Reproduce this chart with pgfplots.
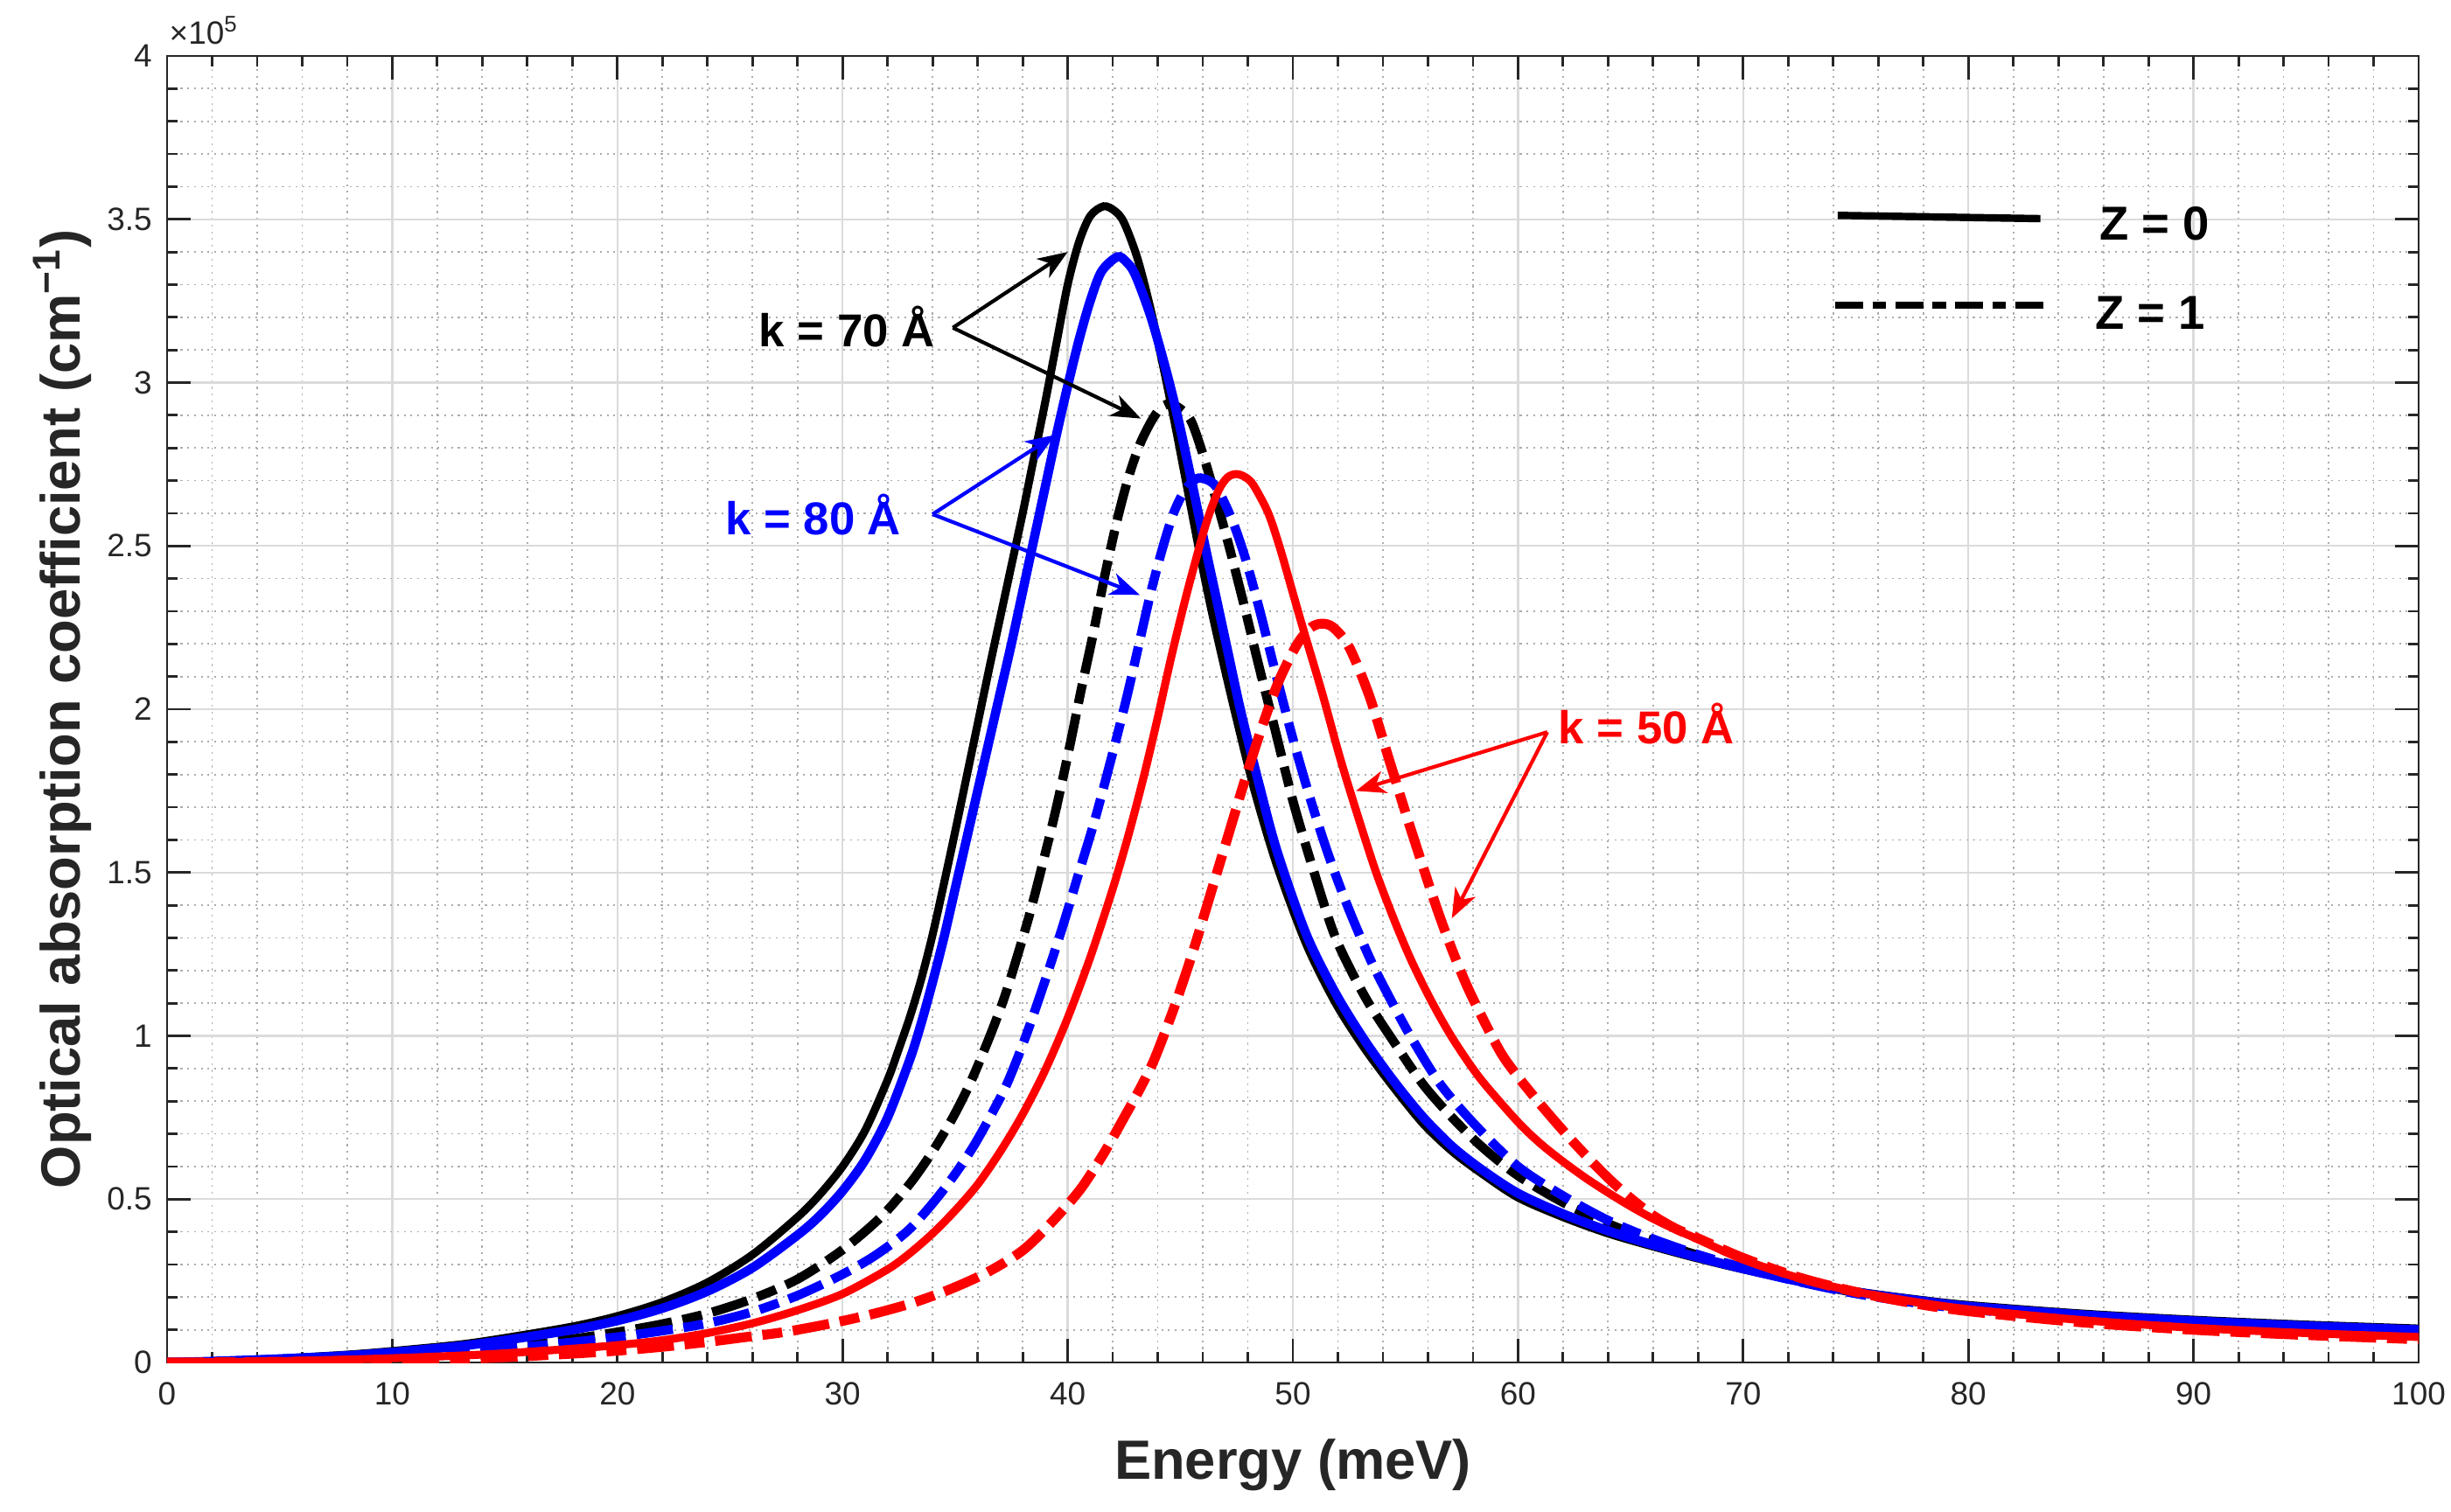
\documentclass[border=0pt]{standalone}
\usepackage{fontspec}
\setmainfont{Liberation Sans}
\usepackage{pgfplots}
\pgfplotsset{compat=1.18}
\usetikzlibrary{arrows.meta}
\definecolor{mblue}{RGB}{0,0,255}
\definecolor{mred}{RGB}{255,0,0}
\begin{document}
\begin{tikzpicture}
\begin{axis}[
  name=ax,
  at={(0,0)}, anchor=south west,
  scale only axis, width=25.74cm, height=14.94cm,
  xmin=0, xmax=100, ymin=0, ymax=4,
  xtick={0,10,...,100}, ytick={0,0.5,...,4},
  minor x tick num=4, minor y tick num=4,
  xtick pos=both, ytick pos=both,
  tick align=inside,
  major tick length=0.27cm, minor tick length=0.12cm,
  every tick/.style={black!85, line width=0.8pt},
  axis line style={black!85, line width=0.8pt},
  grid=both,
  major grid style={black!14, line width=0.7pt},
  minor grid style={black!32, line width=0.5pt, dash pattern=on 0.6pt off 1.6pt},
  /pgf/number format/assume math mode=true,
  tick label style={font=\fontsize{10.5}{12}\selectfont, black!85},
  xticklabel style={yshift=-0.1cm},
  yticklabel style={xshift=-0.05cm},
  xlabel={\bfseries Energy (meV)},
  ylabel={\bfseries Optical absorption coefficient (cm\textsuperscript{−1})},
  label style={font=\fontsize{18}{21}\selectfont, black!85},
  xlabel style={at={(rel axis cs:0.5,0)}, anchor=center, yshift=-1.17cm},
  ylabel style={at={(rel axis cs:-0.0465,0.5)}, anchor=center},
  every axis plot/.append style={smooth},
]
% k = 70, Z = 0 (black solid)
\addplot[black, line width=2.6pt] coordinates {
(0,0) (2,0.004) (5,0.012) (8,0.024) (10,0.035) (13,0.055) (15,0.075) (18,0.11) (20,0.142) (22,0.185) (24,0.245)
(26,0.33) (28,0.445) (29,0.515) (30,0.60) (31,0.71) (32,0.865) (32.5,0.96) (33,1.06) (33.5,1.175) (34,1.31)
(34.5,1.465) (35,1.625) (35.5,1.79) (36,1.955) (36.5,2.12) (37,2.28) (37.5,2.44) (38,2.60) (38.5,2.77) (39,2.94)
(39.5,3.12) (40,3.30) (40.5,3.43) (41,3.51) (41.6,3.54) (42.1,3.525) (42.5,3.49) (43.1,3.38) (43.7,3.22)
(44.3,3.03) (44.8,2.86) (45.3,2.68) (45.8,2.50) (46.3,2.33) (46.85,2.16) (47.5,1.97) (48.3,1.75) (49.3,1.52)
(50.6,1.28) (51.9,1.10) (53.2,0.96) (54.5,0.84) (55.8,0.73) (57.1,0.645) (58.4,0.578) (60,0.505) (62,0.445)
(64,0.395) (66,0.355) (68,0.318) (70,0.285) (72.5,0.248) (75,0.218) (77.5,0.195) (80,0.176) (85,0.15)
(90,0.131) (95,0.116) (100,0.104)
};
% k = 70, Z = 1 (black dash-dot)
\addplot[black, line width=3pt, dash pattern=on 12pt off 3.5pt on 6.5pt off 3.5pt] coordinates {
(0,0) (2,0.002) (5,0.007) (8,0.015) (10,0.022) (13,0.036) (15,0.048) (18,0.072) (20,0.093) (22,0.118) (24,0.15)
(26,0.195) (28,0.255) (30,0.345) (31.7,0.445) (33,0.548) (34,0.646) (34.9,0.75) (35.7,0.86) (36.55,1.0)
(37.2,1.12) (37.7,1.23) (38.3,1.37) (38.9,1.53) (39.5,1.70) (40.1,1.89) (40.6,2.06) (41.1,2.22) (41.65,2.41)
(42.2,2.58) (42.7,2.71) (43.2,2.81) (43.7,2.88) (44.1,2.92) (44.5,2.935) (45.0,2.92) (45.5,2.88) (46.1,2.76)
(46.6,2.64) (47.2,2.49) (47.9,2.30) (48.5,2.13) (49.2,1.94) (50.0,1.72) (50.9,1.51) (51.9,1.30) (53.2,1.12)
(54.5,0.98) (55.8,0.85) (57.1,0.748) (58.4,0.66) (60,0.572) (62,0.49) (64,0.425) (66,0.372) (68,0.328)
(70,0.29) (72.5,0.249) (75,0.214) (77.5,0.188) (80,0.168) (85,0.141) (90,0.122) (95,0.107) (100,0.096)
};
% k = 80, Z = 0 (blue solid)
\addplot[mblue, line width=3pt] coordinates {
(0,0) (2,0.0035) (5,0.011) (8,0.021) (10,0.031) (13,0.05) (15,0.068) (18,0.1) (20,0.128) (22,0.166) (24,0.218)
(26,0.29) (28,0.39) (29,0.45) (30,0.525) (31,0.62) (32,0.75) (33,0.93) (33.5,1.04) (34,1.165) (34.5,1.30)
(35,1.45) (35.5,1.60) (36,1.75) (36.5,1.90) (37,2.05) (37.5,2.20) (38,2.36) (38.5,2.52) (39,2.68) (39.5,2.84)
(40,2.99) (40.5,3.13) (41,3.25) (41.5,3.34) (42.2,3.385) (42.6,3.37) (43.0,3.33) (43.7,3.20) (44.4,3.03)
(44.9,2.89) (45.5,2.70) (46.1,2.50) (46.6,2.34) (47.1,2.18) (47.7,1.99) (48.5,1.77) (49.3,1.565) (50.6,1.31)
(51.9,1.13) (53.2,0.985) (54.5,0.86) (55.8,0.75) (57.1,0.66) (58.4,0.59) (60,0.518) (62,0.455) (64,0.403)
(66,0.36) (68,0.322) (70,0.287) (72.5,0.248) (75,0.216) (77.5,0.192) (80,0.172) (85,0.146) (90,0.127)
(95,0.112) (100,0.10)
};
% k = 80, Z = 1 (blue dash-dot)
\addplot[mblue, line width=3pt, dash pattern=on 12pt off 3.5pt on 6.5pt off 3.5pt] coordinates {
(0,0) (2,0.002) (5,0.006) (8,0.013) (10,0.019) (13,0.031) (15,0.042) (18,0.062) (20,0.078) (22,0.097) (24,0.12)
(26,0.155) (28,0.205) (30,0.27) (31.5,0.33) (33,0.41) (34.5,0.53) (35.8,0.66) (37,0.81) (37.5,0.885)
(38.2,1.01) (39,1.17) (39.8,1.34) (40.5,1.50) (41.2,1.66) (41.9,1.84) (42.6,2.03) (43.2,2.21) (43.7,2.36)
(44.2,2.49) (44.7,2.60) (45.2,2.67) (45.7,2.705) (46.1,2.705) (46.6,2.68) (47.3,2.58) (47.9,2.46) (48.5,2.31)
(49.2,2.12) (50.0,1.91) (50.8,1.72) (51.6,1.55) (52.5,1.385) (53.5,1.225) (54.5,1.09) (55.3,0.99) (56.55,0.852)
(58.1,0.727) (60,0.60) (62,0.51) (64,0.435) (66,0.378) (68,0.33) (70,0.29) (72.5,0.247) (75,0.211)
(77.5,0.184) (80,0.163) (85,0.136) (90,0.117) (95,0.102) (100,0.09)
};
% k = 50, Z = 0 (red solid)
\addplot[mred, line width=2.6pt] coordinates {
(0,0) (2,0.0015) (5,0.004) (8,0.009) (10,0.013) (13,0.021) (15,0.028) (18,0.042) (20,0.053) (22,0.068) (24,0.09)
(26,0.12) (28,0.16) (30,0.21) (32,0.285) (33,0.335) (34,0.395) (35,0.465) (36,0.545) (37,0.645) (38,0.76) (39,0.895)
(40,1.055) (41,1.24) (42,1.45) (42.7,1.615) (43.4,1.80) (44.0,1.975) (44.6,2.16) (45.2,2.33) (45.7,2.46)
(46.2,2.58) (46.7,2.67) (47.1,2.71) (47.5,2.72) (47.9,2.71) (48.26,2.685) (48.91,2.6) (49.43,2.493) (49.95,2.368)
(50.47,2.243) (51.3,2.05) (52.1,1.85) (52.9,1.67) (53.7,1.50) (54.5,1.355) (55.2,1.24) (55.9,1.14) (56.6,1.05)
(57.3,0.97) (58.37,0.865) (60,0.736) (61,0.67) (62,0.615) (63,0.565) (64,0.52) (65,0.478) (66,0.44) (67,0.407)
(68,0.377) (70,0.315) (72.5,0.258) (75,0.217) (77.5,0.187) (80,0.163) (85,0.13) (90,0.106) (95,0.09) (100,0.078)
};
% k = 50, Z = 1 (red dash-dot)
\addplot[mred, line width=3.2pt, dash pattern=on 12pt off 3.5pt on 6.5pt off 3.5pt] coordinates {
(0,0) (2,0.0005) (5,0.002) (8,0.004) (10,0.006) (13,0.011) (15,0.016) (18,0.027) (20,0.036) (22,0.048) (23.9,0.062)
(25.5,0.076) (27.4,0.093) (29.3,0.117) (31.2,0.146) (33,0.18) (34.7,0.222) (36.4,0.275) (38,0.343) (39.3,0.43)
(40.56,0.53) (41.6,0.64) (42.57,0.758) (43.3,0.85) (43.86,0.93) (44.64,1.07) (45.29,1.2) (45.8,1.31) (46.5,1.47)
(47.2,1.63) (47.9,1.79) (48.7,1.96) (49.4,2.09) (50.2,2.2) (50.8,2.25) (51.3,2.262) (51.8,2.25) (52.5,2.19)
(53.4,2.04) (54.3,1.84) (55.26,1.628) (56.55,1.36) (57.72,1.155) (59.14,0.96) (60,0.875) (61,0.79) (62,0.71)
(63,0.635) (64,0.565) (65,0.503) (66,0.45) (67,0.41) (68,0.38) (70,0.32) (72.5,0.26) (75,0.216) (77.5,0.182)
(80,0.157) (85,0.123) (90,0.1) (95,0.084) (100,0.071)
};
% legend (line samples and labels)
\draw[black, line width=2.4pt] (axis cs:74.2,3.512) -- (axis cs:83.2,3.502);
\node[anchor=west, inner sep=0pt, font=\bfseries\fontsize{15.5}{18}\selectfont] at (axis cs:85.8,3.486) {Z = 0};
\draw[black, line width=2.4pt, dash pattern=on 9pt off 3pt on 4.5pt off 3pt] (axis cs:74.1,3.237) -- (axis cs:83.4,3.237);
\node[anchor=west, inner sep=0pt, font=\bfseries\fontsize{15.5}{18}\selectfont] at (axis cs:85.6,3.213) {Z = 1};
% annotations
\tikzset{annarrow/.style={line width=1.2pt, -{Stealth[length=0.34cm, width=0.26cm, inset=0.1cm]}}}
\node[font=\bfseries\fontsize{15}{18}\selectfont, black] at (axis cs:30.2,3.171) {k = 70 Å};
\draw[annarrow, black] (axis cs:34.9,3.168) -- (axis cs:40.0,3.40);
\draw[annarrow, black] (axis cs:34.9,3.168) -- (axis cs:43.25,2.89);
\node[font=\bfseries\fontsize{15}{18}\selectfont, mblue] at (axis cs:28.7,2.597) {k = 80 Å};
\draw[annarrow, mblue] (axis cs:34.0,2.597) -- (axis cs:39.45,2.84);
\draw[annarrow, mblue] (axis cs:34.0,2.597) -- (axis cs:43.2,2.35);
\node[font=\bfseries\fontsize{15}{18}\selectfont, mred] at (axis cs:65.7,1.957) {k = 50 Å};
\draw[annarrow, mred] (axis cs:61.3,1.93) -- (axis cs:52.8,1.75);
\draw[annarrow, mred] (axis cs:61.3,1.93) -- (axis cs:57.06,1.36);
\end{axis}
\node[anchor=base west, font=\fontsize{10.5}{12}\selectfont, black!85, inner sep=0pt] at ([xshift=0.02cm, yshift=0.14cm]ax.north west) {×10\textsuperscript{5}};
\pgfresetboundingbox
\path[use as bounding box] (-1.91cm,-1.70cm) rectangle (26.11cm,15.58cm);
\end{tikzpicture}
\end{document}
